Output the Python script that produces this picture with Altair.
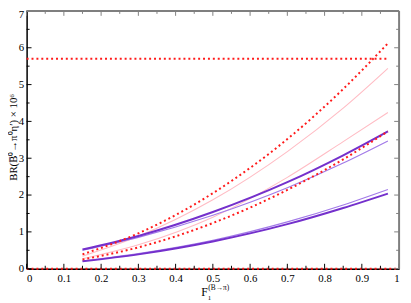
import altair as alt
import pandas as pd

# ---- data ----
F = [0.15, 0.3, 0.5, 0.7, 0.85, 0.97]
red_upper = [0.39, 0.96, 2.05, 3.52, 4.88, 6.12]
red_lower = [0.25, 0.58, 1.24, 2.14, 2.97, 3.73]
pink_upper = [0.34, 0.88, 1.87, 3.18, 4.36, 5.44]
pink_lower = [0.27, 0.65, 1.40, 2.48, 3.45, 4.24]
violet_top_thick = [0.52, 0.89, 1.54, 2.35, 3.08, 3.73]
violet_top_thin = [0.50, 0.85, 1.45, 2.20, 2.87, 3.47]
violet_bot_thick = [0.20, 0.39, 0.74, 1.21, 1.65, 2.04]
violet_bot_thin = [0.21, 0.41, 0.77, 1.27, 1.73, 2.15]

limit_F = [0.0, 0.97]
limit_BR = [5.7, 5.7]
zero_F = [0.0, 1.0]
zero_BR = [0.0, 0.0]

x_major = [0, 0.1, 0.2, 0.3, 0.4, 0.5, 0.6, 0.7, 0.8, 0.9, 1]
x_minor = [0.05, 0.15, 0.25, 0.35, 0.45, 0.55, 0.65, 0.75, 0.85, 0.95]
y_major = [0, 1, 2, 3, 4, 5, 6, 7]
y_minor = [0.5, 1.5, 2.5, 3.5, 4.5, 5.5, 6.5]

W, H = 380, 263
FONT = "Liberation Serif"


def series(name, xs, ys):
    return pd.DataFrame({"F": xs, "BR": ys, "s": name})


red_df = pd.concat([series("ru", F, red_upper), series("rl", F, red_lower),
                    series("lim", limit_F, limit_BR), series("zero", zero_F, zero_BR)])
pink_df = pd.concat([series("pu", F, pink_upper), series("pl", F, pink_lower)])
vthick_df = pd.concat([series("vt", F, violet_top_thick), series("vb", F, violet_bot_thick)])
vthin_df = pd.concat([series("vt2", F, violet_top_thin), series("vb2", F, violet_bot_thin)])

xs = alt.Scale(domain=[0, 1], nice=False, zero=False)
ys = alt.Scale(domain=[0, 7], nice=False)

xaxis = alt.Axis(values=x_major, format="~g", ticks=False, grid=False, domain=True,
                 domainColor="black", domainWidth=1.5, labelFont=FONT, labelFontSize=11,
                 labelPadding=4, labelColor="black", title=None)
yaxis = alt.Axis(values=y_major, format="~g", ticks=False, grid=False, domain=True,
                 domainColor="black", domainWidth=1.5, labelFont=FONT, labelFontSize=11,
                 labelPadding=3, labelColor="black", title=None,
                 labelOffset={"condition": {"test": "datum.value === 7", "value": 4}, "value": 0})

X = lambda f: alt.X(f, scale=xs, axis=xaxis)
Y = lambda f: alt.Y(f, scale=ys, axis=yaxis)


def curves(df, color, width, dash=None, clip=True):
    kw = dict(color=color, strokeWidth=width, interpolate="monotone", clip=clip)
    if dash:
        kw["strokeDash"] = dash
    return alt.Chart(df).mark_line(**kw).encode(x=X("F:Q"), y=Y("BR:Q"), detail="s:N")


pink = curves(pink_df, "#ffbcc4", 1.1)
vthin = curves(vthin_df, "#a27ae8", 1.2)
vthick = curves(vthick_df, "#7430cc", 2)
red = curves(red_df, "#ff1a1a", 2, dash=[2, 3], clip=False)

# ---- ticks (inward) ----
xt_major = pd.DataFrame({"F": x_major})
xt_minor = pd.DataFrame({"F": x_minor})
yt_major = pd.DataFrame({"BR": y_major})
yt_minor = pd.DataFrame({"BR": y_minor})


def xticks(df, y0, y1, color):
    return alt.Chart(df).mark_rule(color=color, strokeWidth=1).encode(
        x=X("F:Q"), y=alt.value(y0), y2=alt.value(y1))


def yticks(df, x0, x1, color):
    return alt.Chart(df).mark_rule(color=color, strokeWidth=1).encode(
        y=Y("BR:Q"), x=alt.value(x0), x2=alt.value(x1))


GRAY = "#7f7f7f"
ticks = [
    xticks(xt_major, H, H - 5, "black"), xticks(xt_minor, H, H - 3, "black"),
    xticks(xt_major, 0, 5, GRAY), xticks(xt_minor, 0, 3, GRAY),
    yticks(yt_major, 0, 5, "black"), yticks(yt_minor, 0, 3, "black"),
    yticks(yt_major, W, W - 5, GRAY), yticks(yt_minor, W, W - 3, GRAY),
]

one = pd.DataFrame({"t": ["x"]})
top_border = alt.Chart(one).mark_rule(color=GRAY, strokeWidth=2).encode(
    x=alt.value(0), x2=alt.value(W), y=alt.value(0))
right_border = alt.Chart(one).mark_rule(color=GRAY, strokeWidth=2).encode(
    x=alt.value(W), y=alt.value(0), y2=alt.value(H))


def label(text, x, y, size, angle=0, baseline="alphabetic", align="center"):
    kw = dict(font=FONT, fontSize=size, color="black", baseline=baseline, align=align)
    if angle:
        kw["angle"] = angle
    return alt.Chart(pd.DataFrame({"t": [text]})).mark_text(**kw).encode(
        x=alt.value(x), y=alt.value(y), text="t:N")


titles = [
    label("BR(B\u0305\u2070\u2192\u03c0\u2070\u03b7\u2032) \u00d7 10\u2076", -9.5, 129, 11, angle=270),
    label("F", 181.5, 291, 12),
    label("(B\u2192\u03c0)", 196, 285, 7.5),
    label("1", 186.5, 294.5, 7),
]

chart = alt.layer(pink, vthin, vthick, red, *ticks, top_border, right_border, *titles).properties(
    width=W, height=H,
    autosize=alt.AutoSizeParams(type="none"),
    padding={"left": 19, "top": 0, "right": 4, "bottom": 32},
).configure_view(stroke=None).configure(background="white")

chart.save("out.html", embed_options={"renderer": "svg", "actions": False})
